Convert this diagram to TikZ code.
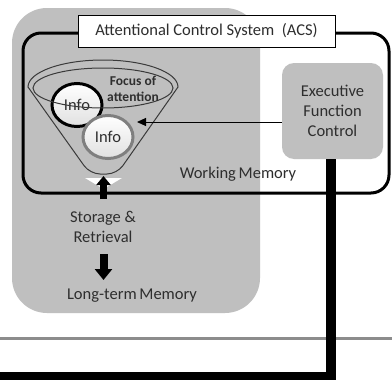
\documentclass[tikz,border=0pt]{standalone}
\usepackage{fontspec}
\setmainfont{Carlito}
\usetikzlibrary{shapes.geometric,arrows.meta}
\definecolor{bggray}{HTML}{BFBFBF}
\definecolor{txt}{HTML}{2E2E2E}
\definecolor{linegray}{HTML}{8C8C8C}
\definecolor{infogray}{HTML}{7F7F7F}
\definecolor{funnelline}{HTML}{3A3A3A}
\tikzset{
  lbl/.style={text=txt, font=\fontsize{16.5}{20}\selectfont, align=center, inner sep=0pt},
  acsbox/.style={lbl, draw=black, fill=white, line width=0.8pt, minimum width=257pt, minimum height=32pt},
  efcbox/.style={lbl, fill=bggray, rounded corners=12pt, minimum width=101pt, minimum height=96pt},
  infobox/.style={lbl, ellipse, line width=3pt, minimum width=50pt, minimum height=43pt, top color=white, bottom color=black!12},
  focuslbl/.style={text=txt, font=\bfseries\fontsize{13.5}{16}\selectfont, align=center, inner sep=0pt},
  funnelstyle/.style={draw=funnelline, line width=1pt},
  thinarrow/.style={line width=1pt, -{Triangle[length=9pt,width=8pt]}},
  blockarrow/.style={line width=7pt, -{Triangle[length=10pt,width=16pt]}},
}
\begin{document}
\begin{tikzpicture}[x=1pt,y=-1pt]
\useasboundingbox (0,0) rectangle (392,380);
\fill[white] (0,0) rectangle (392,380);
% gray background panel
\fill[bggray, rounded corners=35pt] (12,8) rectangle (260,313);
% working memory / ACS outline
\draw[line width=3pt, rounded corners=18pt] (23,33) rectangle (389,193);
% gray horizontal line
\draw[linegray, line width=3pt] (0,338) -- (392,338);
% ACS label
\node[acsbox] (acs) at (206.5,31) {Attentional Control System\ \ (ACS)};
% Executive function control
\node[efcbox] (efc) at (332.5,111) {Executive\\Function\\Control};
% funnel
\draw[funnelstyle] (28,87) arc[start angle=180, end angle=0, x radius=75pt, y radius=27pt]
  [rounded corners=10pt] -- (117,174) -- (90,174) [sharp corners] -- cycle;
% info 1
\node[infobox, draw=black] (info1) at (77,105) {Info};
% inner ellipse (focus of attention)
\draw[funnelstyle] (103,88) ellipse [x radius=70pt, y radius=20pt];
% info 2
\node[infobox, draw=infogray] (info2) at (108,137) {Info};
\node[focuslbl] (focus) at (133,89) {Focus of\\attention};
% arrow from executive control into funnel
\coordinate (tip) at (137,122);
\draw[thinarrow] (efc.west |- tip) -- (tip);
% working memory label
\node[lbl] (wm) at (238,174) {Working\,Memory};
% storage and retrieval
\node[lbl] (storage) at (103,227) {Storage \&\\Retrieval};
\node[lbl] (ltm) at (132,296) {Long-term\,Memory};
% white/black double arrow at funnel bottom
\fill[white] (85,178) -- (122,178) -- (103.5,189) -- cycle;
\coordinate (upstart) at (103.5,199);
\coordinate (upend) at (103.5,176);
\draw[blockarrow, -{Triangle[length=9pt,width=14pt]}] (upstart) -- (upend);
% down arrow to long-term memory
\coordinate (dnstart) at (103.5,254);
\coordinate (dnend) at (103.5,280);
\draw[blockarrow, line width=8pt, -{Triangle[length=11pt,width=17pt]}] (dnstart) -- (dnend);
% thick control line
\coordinate (cornerpt) at (331,377);
\coordinate (leftend) at (0,377);
\draw[line width=10pt] (efc.south -| cornerpt) -- (cornerpt) -- (leftend);
\end{tikzpicture}
\end{document}
